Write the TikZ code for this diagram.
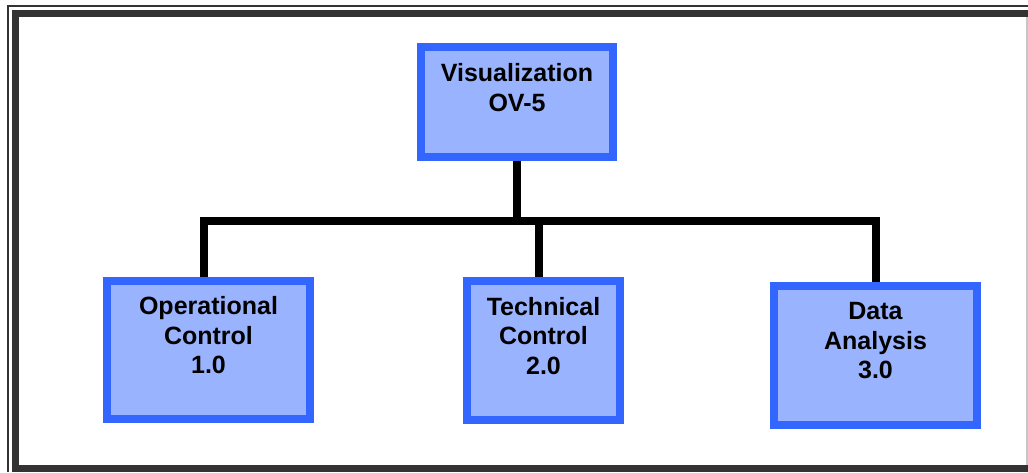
\documentclass[tikz,border=0pt]{standalone}
\usepackage{fontspec}
\setmainfont{Liberation Sans}
\usepackage{xcolor}
\usepackage{tikz}
\usetikzlibrary{backgrounds}

\definecolor{taskblue}{RGB}{51,102,255}
\definecolor{taskfill}{RGB}{153,179,255}
\definecolor{framegray}{RGB}{51,51,51}

\begin{document}
\begin{tikzpicture}[x=0.5pt, y=-0.5pt,
  task/.style={draw=taskblue, fill=taskfill, line width=4pt, align=center, inner sep=0pt,
    font=\fontsize{12.5}{14.8}\selectfont\bfseries},
  link/.style={black, line width=4pt}]
  \useasboundingbox (0,0) rectangle (1028,472);

  % frame
  \draw[framegray, line width=0.8pt] (8.2,472) -- (8.2,5.8) -- (1028,5.8);
  \draw[framegray, line width=3.5pt] (1028,13.5) -- (15.5,13.5) -- (15.5,468.5) -- (1028,468.5);
  \draw[gray!45, line width=0.6pt] (1027,17) -- (1027,465);

  % boxes
  \node[task, minimum width=96pt, minimum height=55pt] (vis) at (517,102) {Visualization\\OV-5\\\mbox{}};
  \node[task, minimum width=101.5pt, minimum height=69pt] (opc) at (208.5,350) {Operational\\Control\\1.0\\\mbox{}};
  \node[task, minimum width=76.5pt, minimum height=69.5pt] (tec) at (543.5,350.5) {Technical\\Control\\2.0\\\mbox{}};
  \node[task, minimum width=101.5pt, minimum height=69.5pt] (dat) at (875.5,355.5) {Data\\Analysis\\3.0\\\mbox{}};

  % tree
  \coordinate (bus) at (516,221);
  \begin{scope}[on background layer]
    \draw[link] (vis.south) -- (vis.south |- bus);
    \draw[link] ([xshift=-2.25pt]opc.north) |- (bus) -| (dat.north);
    \draw[link] ([xshift=-2.25pt]tec.north) -- ([xshift=-2.25pt]tec.north |- bus);
  \end{scope}
\end{tikzpicture}
\end{document}
